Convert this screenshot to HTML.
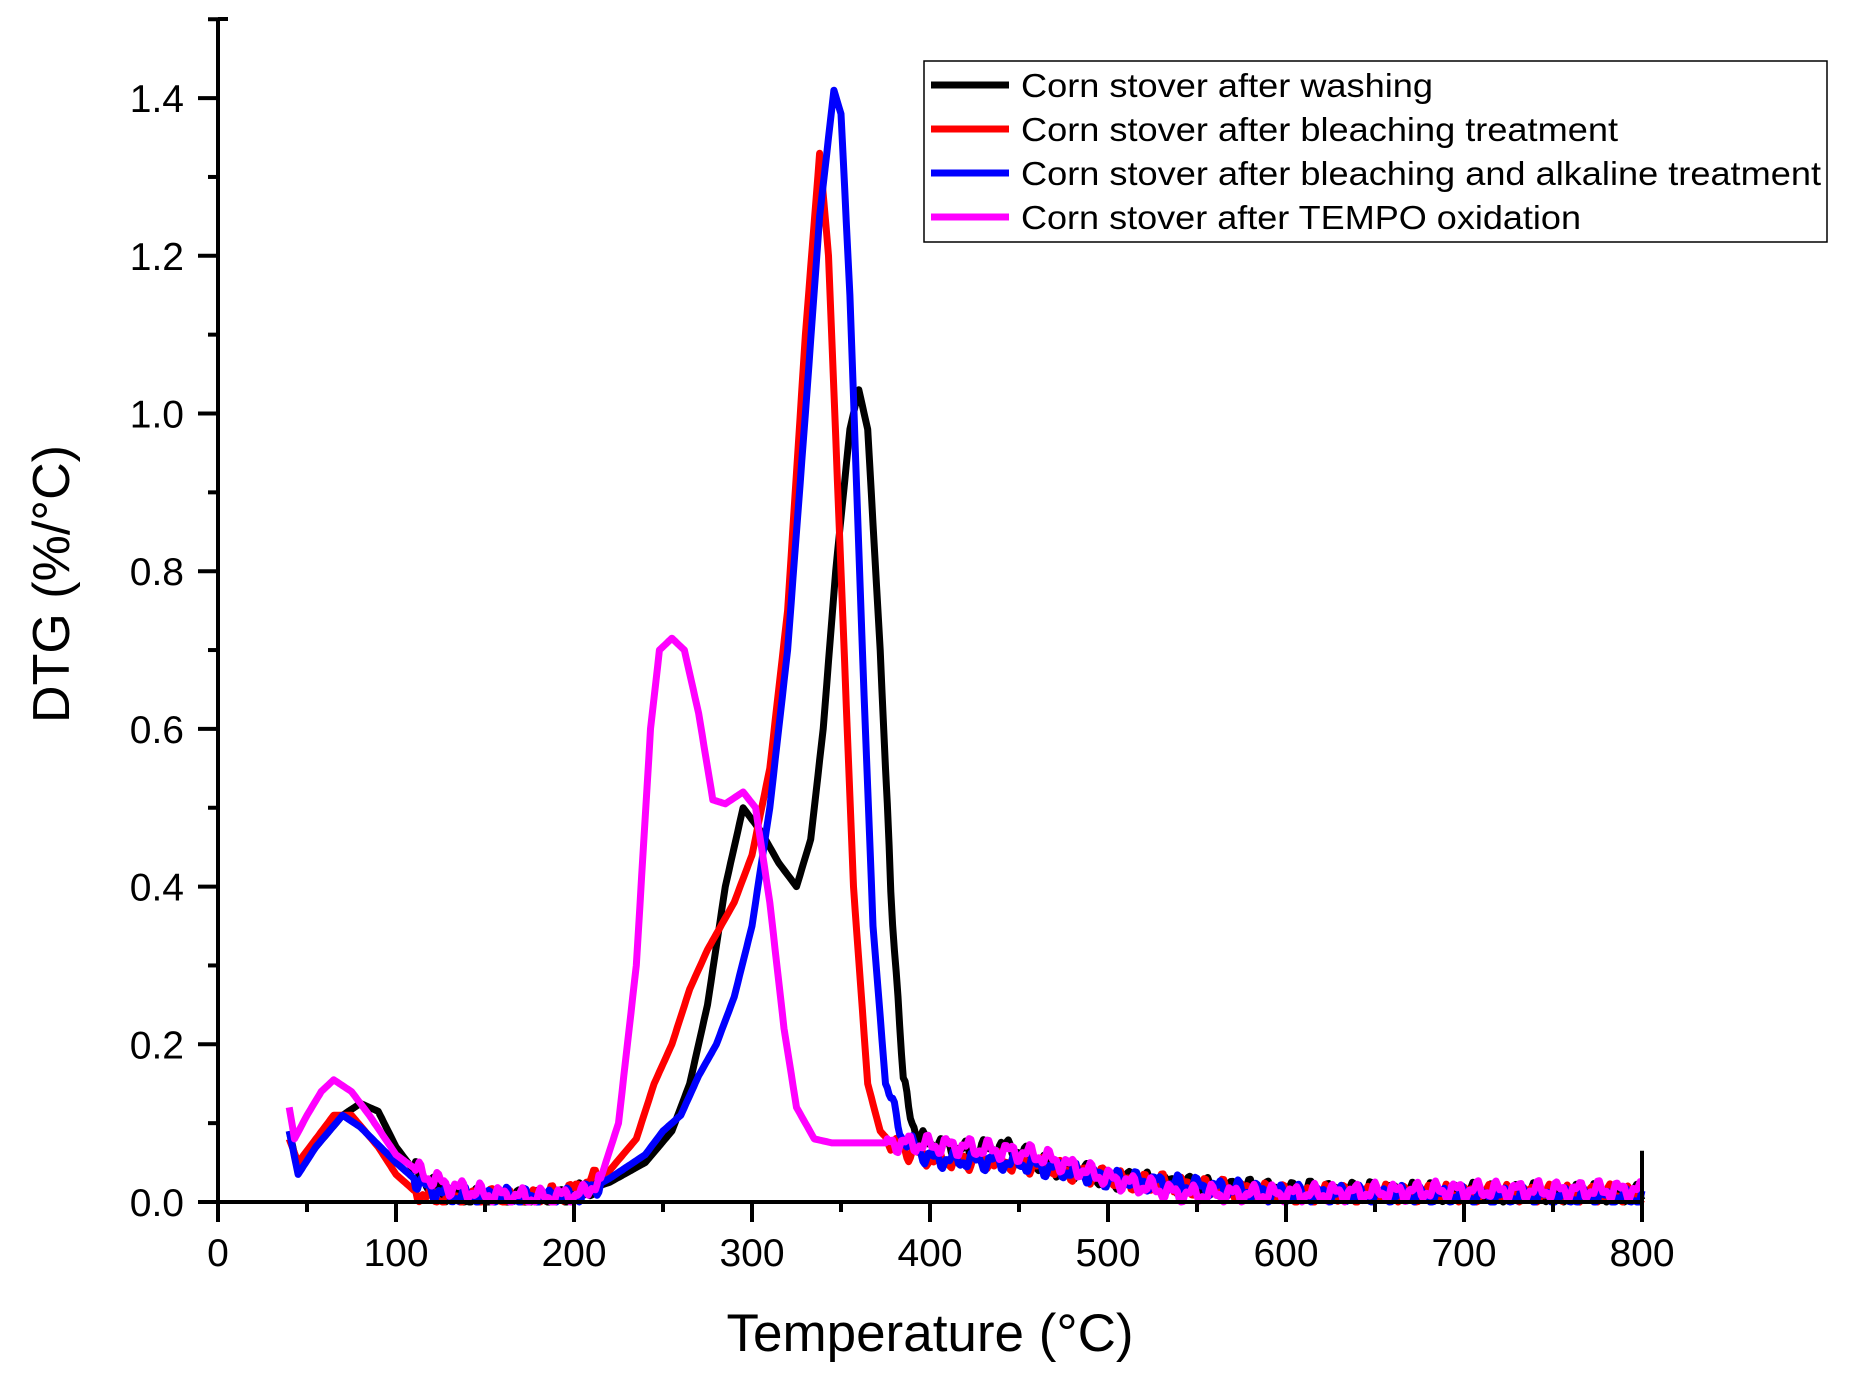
<!DOCTYPE html>
<html><head><meta charset="utf-8"><style>
html,body{margin:0;padding:0;background:#fff;}
svg{display:block;font-family:"Liberation Sans",Arial,sans-serif;}
</style></head><body>
<svg id="s" width="1850" height="1381" viewBox="0 0 1850 1381" xmlns="http://www.w3.org/2000/svg">
<g id="curves" fill="none" stroke-width="7" stroke-linejoin="round"></g>
<g id="axes" stroke="#000" stroke-width="4"></g>
<g id="labels" font-size="39" fill="#000"></g>
<text x="52" y="584" font-size="52" text-anchor="middle" transform="rotate(-90 52 584)" dominant-baseline="central">DTG (%/°C)</text>
<text x="930" y="1351" font-size="53" text-anchor="middle">Temperature (°C)</text>
<rect x="924" y="61" width="903" height="181" fill="#fff" stroke="#000" stroke-width="1.5"/>
<g stroke-width="7">
<line x1="931" y1="85" x2="1009" y2="85" stroke="#000"/>
<line x1="931" y1="129" x2="1009" y2="129" stroke="#f00"/>
<line x1="931" y1="173" x2="1009" y2="173" stroke="#00f"/>
<line x1="931" y1="217" x2="1009" y2="217" stroke="#f0f"/>
</g>
<g font-size="33" fill="#000">
<text x="1021" y="97" textLength="412" lengthAdjust="spacingAndGlyphs">Corn stover after washing</text>
<text x="1021" y="141" textLength="597" lengthAdjust="spacingAndGlyphs">Corn stover after bleaching treatment</text>
<text x="1021" y="185" textLength="800" lengthAdjust="spacingAndGlyphs">Corn stover after bleaching and alkaline treatment</text>
<text x="1021" y="229" textLength="560" lengthAdjust="spacingAndGlyphs">Corn stover after TEMPO oxidation</text>
</g>
</svg>
<script>
const X=t=>218+1.78*t, Y=v=>1202-788.5*v;
const NS="http://www.w3.org/2000/svg";
function el(p,n,a){const e=document.createElementNS(NS,n);for(const k in a)e.setAttribute(k,a[k]);p.appendChild(e);return e;}
const ax=document.getElementById('axes'), lb=document.getElementById('labels');
el(ax,'line',{x1:218,y1:19,x2:218,y2:1204});
el(ax,'line',{x1:216,y1:1202,x2:1644,y2:1202});
el(ax,'line',{x1:218,y1:19,x2:228,y2:19});
for(let i=0;i<=15;i++){const y=Y(i*0.1);const maj=i%2==0;el(ax,'line',{x1:maj?198:208,y1:y,x2:218,y2:y});
 if(maj){const t=el(lb,'text',{x:184,y:y+14,'text-anchor':'end'});t.textContent=(i/10).toFixed(1);}}
for(let i=0;i<=16;i++){const x=X(i*50);const maj=i%2==0;el(ax,'line',{x1:x,y1:1202,x2:x,y2:maj?1222:1212});
 if(maj){const t=el(lb,'text',{x:x,y:1266,'text-anchor':'middle'});t.textContent=i*50;}}
const D={
"#000":[[40,.09],[45,.04],[55,.07],[70,.11],[80,.125],[90,.115],[100,.07],[110,.04],[125,.015],[140,.005],[180,.003],[200,.01],[220,.025],[240,.05],[255,.09],[265,.15],[275,.25],[285,.4],[295,.5],[305,.47],[315,.43],[325,.40],[333,.46],[340,.6],[347,.8],[355,.98],[360,1.03],[365,.98],[372,.7],[378,.4],[385,.15],[393,.08],[400,.075],[420,.065],[445,.07],[460,.05],[500,.03],[550,.02],[600,.015],[800,.01]],
"#f00":[[40,.08],[45,.05],[55,.08],[65,.11],[75,.11],[90,.07],[100,.035],[110,.015],[120,.005],[180,.005],[200,.015],[220,.04],[235,.08],[245,.15],[255,.2],[265,.27],[275,.32],[290,.38],[300,.44],[310,.55],[320,.75],[330,1.1],[338,1.33],[343,1.2],[350,.8],[357,.4],[365,.15],[372,.09],[380,.07],[400,.055],[450,.05],[500,.03],[600,.01],[800,.01]],
"#00f":[[40,.09],[45,.035],[55,.07],[70,.11],[80,.095],[100,.05],[115,.02],[130,.008],[200,.005],[220,.03],[240,.06],[250,.09],[260,.11],[270,.16],[280,.2],[290,.26],[300,.35],[310,.5],[320,.7],[330,1.0],[338,1.25],[346,1.41],[350,1.38],[355,1.15],[362,.7],[368,.35],[375,.15],[385,.08],[400,.055],[450,.05],[500,.03],[600,.01],[800,.005]],
"#f0f":[[40,.12],[43,.08],[50,.11],[58,.14],[65,.155],[75,.14],[85,.11],[100,.06],[115,.035],[130,.02],[150,.01],[180,.005],[205,.01],[215,.03],[225,.1],[235,.3],[243,.6],[248,.7],[255,.715],[262,.7],[270,.62],[278,.51],[285,.505],[295,.52],[302,.5],[310,.38],[318,.22],[325,.12],[335,.08],[345,.075],[380,.075],[420,.07],[460,.06],[500,.03],[540,.01],[600,.01],[700,.015],[800,.015]]};
const cg=document.getElementById('curves');let seed=1;
for(const c in D){const d=D[c];let pts=[];let j=0;seed++;
 for(let t=40;t<=800;t+=1){while(j<d.length-2&&d[j+1][0]<t)j++;
  const a=d[j],b=d[j+1];let f=(t-a[0])/(b[0]-a[0]);f=Math.max(0,Math.min(1,f));let v=a[1]+(b[1]-a[1])*f;
  if(t>110&&(t<215||t>375))v+=0.008*Math.sin(t*0.55+seed*1.7)+0.005*Math.sin(t*1.3+seed);
  if(v<0)v=0;pts.push(X(t).toFixed(1)+","+Y(v).toFixed(1));}
 el(cg,'polyline',{points:pts.join(" "),stroke:c});}
el(cg,'line',{x1:X(800),y1:Y(0),x2:X(800),y2:Y(0.065),stroke:"#000","stroke-width":4});
</script>
</body></html>
